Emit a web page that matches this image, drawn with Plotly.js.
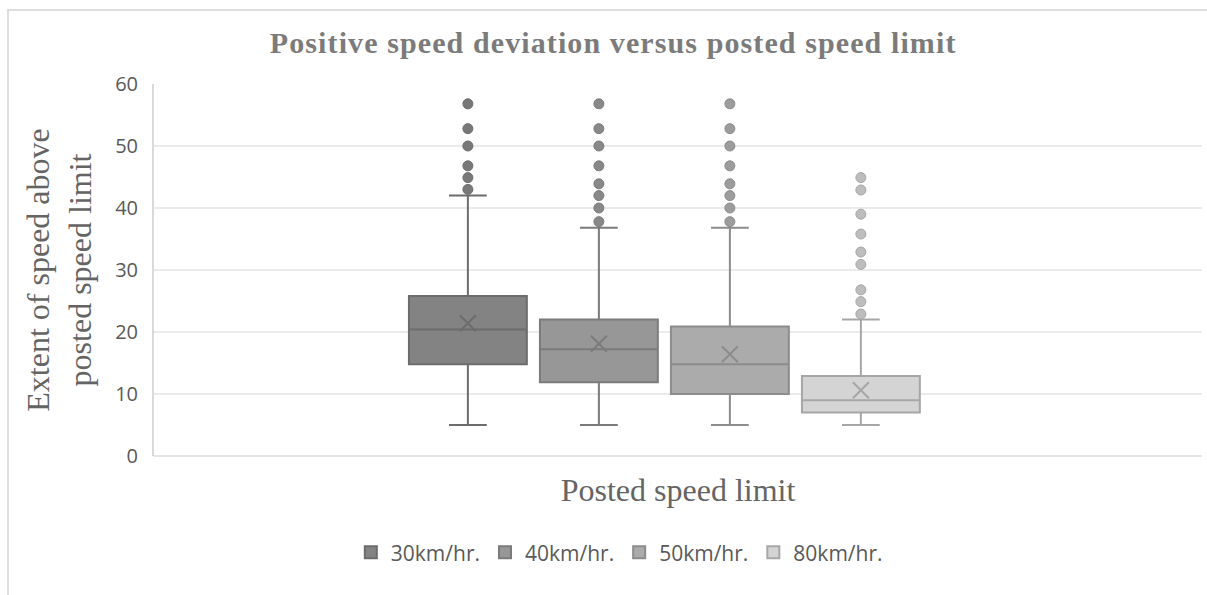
<!DOCTYPE html>
<html>
<head>
<meta charset="utf-8">
<script src="https://cdn.plot.ly/plotly-3.0.1.min.js"></script>
<style>
  html, body { margin: 0; padding: 0; background: #ffffff; }
  #wrap { position: relative; width: 1207px; height: 595px; overflow: hidden; }
  #chart { position: absolute; left: 0; top: 0; width: 1207px; height: 595px; }
  #frame { position: absolute; left: 7px; top: 9px; right: -4px; bottom: -4px;
           border-left: 2px solid #dedede; border-top: 2px solid #dedede; pointer-events: none; }
  #chart .gtitle { letter-spacing: 1.1px; }
</style>
</head>
<body>
<div id="wrap">
  <div id="chart"></div>
  <div id="frame"></div>
</div>
<script>
// ---- data ----
const categories = ['30km/hr.', '40km/hr.', '50km/hr.', '80km/hr.'];
const groupLabel = ['Posted speed limit'];
const q1Values = [14.8, 11.9, 10.0, 7.0];
const medianValues = [20.4, 17.2, 14.8, 9.0];
const q3Values = [25.8, 22.0, 20.9, 12.9];
const lowerWhiskers = [5, 5, 5, 5];
const upperWhiskers = [42.0, 36.8, 36.8, 22.0];
const meanValues = [21.4, 18.1, 16.4, 10.6];
const outliers30 = [43.0, 44.9, 46.8, 50.0, 52.8, 56.8];
const outliers40 = [37.8, 40.0, 42.0, 43.9, 46.8, 50.0, 52.8, 56.8];
const outliers50 = [37.8, 40.0, 42.0, 43.9, 46.8, 50.0, 52.8, 56.8];
const outliers80 = [22.9, 24.9, 26.8, 30.9, 32.9, 35.8, 39.0, 42.9, 44.9];
const yTickValues = [0, 10, 20, 30, 40, 50, 60];

// ---- styles ----
const outlierSets = [outliers30, outliers40, outliers50, outliers80];
const fillColors = ['#838383', '#979797', '#ababab', '#d4d4d4'];
const lineColors = ['#6c6c6c', '#7b7b7b', '#8c8c8c', '#a6a6a6'];
const markerColors = ['#787878', '#888888', '#9c9c9c', '#bdbdbd'];

const traces = [];
categories.forEach((cat, i) => {
  traces.push({
    type: 'box',
    name: cat,
    x: groupLabel,
    q1: [q1Values[i]],
    median: [medianValues[i]],
    q3: [q3Values[i]],
    lowerfence: [lowerWhiskers[i]],
    upperfence: [upperWhiskers[i]],
    y: [outlierSets[i]],
    boxpoints: 'outliers',
    pointpos: 0,
    jitter: 0,
    whiskerwidth: 0.32,
    fillcolor: fillColors[i],
    line: { color: lineColors[i], width: 2 },
    marker: { color: markerColors[i], size: 10, line: { color: lineColors[i], width: 1 } },
    hoverinfo: 'y'
  });
});
categories.forEach((cat, i) => {
  traces.push({
    type: 'scatter',
    mode: 'markers',
    name: cat + ' mean',
    x: groupLabel,
    y: [meanValues[i]],
    showlegend: false,
    marker: { symbol: 'x-thin-open', size: 16, line: { color: lineColors[i], width: 2 }, color: lineColors[i] },
    hoverinfo: 'y'
  });
});

const serif = '"Liberation Serif", "Times New Roman", serif';
const sans = '"Open Sans", "Noto Sans", sans-serif';

const layout = {
  width: 1207,
  height: 595,
  paper_bgcolor: 'rgba(0,0,0,0)',
  plot_bgcolor: '#ffffff',
  margin: { l: 154, r: 5, t: 84, b: 139, pad: 0 },
  boxmode: 'group',
  boxgap: 0.5,
  boxgroupgap: 0.1,
  scattermode: 'group',
  scattergap: 0.5,
  title: {
    text: '<b>Positive speed deviation versus posted speed limit</b>',
    font: { family: serif, size: 30, color: '#7b7b7b' },
    xref: 'container', x: 0.508, xanchor: 'center',
    yref: 'container', y: 0.928, yanchor: 'middle'
  },
  xaxis: {
    type: 'category',
    range: [-0.487, 0.513],
    showticklabels: false,
    showgrid: false,
    zeroline: false,
    showline: false,
    ticks: '',
    title: {
      text: 'Posted speed limit',
      font: { family: serif, size: 32, color: '#646464' },
      standoff: 22
    }
  },
  yaxis: {
    range: [0, 60],
    tickvals: yTickValues,
    ticktext: yTickValues.map(String),
    showgrid: true,
    gridcolor: '#ebebeb',
    gridwidth: 2,
    zeroline: true,
    zerolinecolor: '#e4e4e4',
    zerolinewidth: 2,
    showline: true,
    linecolor: '#d9d9d9',
    linewidth: 2,
    ticks: '',
    ticklabelstandoff: 10,
    tickfont: { family: sans, size: 20, color: '#595959' },
    title: {
      text: 'Extent of speed above<br>posted speed limit',
      font: { family: serif, size: 32, color: '#646464' },
      standoff: 14
    }
  },
  showlegend: true,
  legend: {
    orientation: 'h',
    x: 0.444, xanchor: 'center',
    y: -0.26, yanchor: 'middle',
    font: { family: sans, size: 21, color: '#595959' },
    itemwidth: 30,
    traceorder: 'normal'
  }
};

Plotly.newPlot('chart', traces, layout, { displayModeBar: false, staticPlot: true });
</script>
</body>
</html>
